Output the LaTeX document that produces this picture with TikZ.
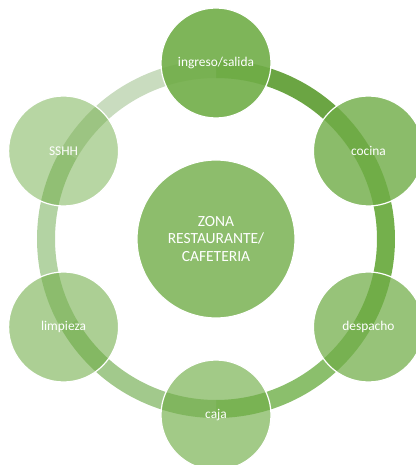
\documentclass[tikz,border=0pt]{standalone}
\usepackage{fontspec}
\setmainfont{Carlito}
\definecolor{zonegreen}{HTML}{70AD47}
\definecolor{arcA}{HTML}{6BA543}
\definecolor{arcB}{HTML}{74B04C}
\definecolor{arcC}{HTML}{8BBF6C}
\definecolor{arcD}{HTML}{A2C98C}
\definecolor{arcE}{HTML}{B3D3A3}
\definecolor{arcF}{HTML}{C9DCBF}
\begin{document}
\begin{tikzpicture}[zone/.style = {draw=white, circle, line width=1.2pt, fill=zonegreen, text=white, text opacity=1, inner sep=0pt, minimum size=110pt, font=\fontsize{13.4}{15}\selectfont},
    hub/.style = {zone, minimum size=158pt, align=center, font=\fontsize{15.5}{17.5}\selectfont},
    ring/.style = {line width=18pt}]

    \useasboundingbox (-216pt,-226pt) rectangle (199pt,239pt);

    \coordinate (r1) at (90:170pt);
    \coordinate (r2) at (30:170pt);
    \coordinate (r3) at (-30:170pt);
    \coordinate (r4) at (-90:170pt);
    \coordinate (r5) at (-150:170pt);
    \coordinate (r6) at (150:170pt);

    % ring between the zones
    \draw[ring, arcA] (r1) arc[start angle=90, end angle=30, radius=170pt];
    \draw[ring, arcB] (r2) arc[start angle=30, end angle=-30, radius=170pt];
    \draw[ring, arcC] (r3) arc[start angle=-30, end angle=-90, radius=170pt];
    \draw[ring, arcD] (r4) arc[start angle=-90, end angle=-150, radius=170pt];
    \draw[ring, arcE] (r5) arc[start angle=210, end angle=150, radius=170pt];
    \draw[ring, arcF] (r6) arc[start angle=150, end angle=90, radius=170pt];

    \node[hub, fill opacity=0.8] (hub) at (0,0) {ZONA\\RESTAURANTE/\\CAFETERIA};

    \node[zone, fill opacity=0.9] (ingreso) at (90:176pt) {ingreso/salida};
    \node[zone, fill opacity=0.81] (cocina) at (30:176pt) {cocina};
    \node[zone, fill opacity=0.73] (despacho) at (-30:176pt) {despacho};
    \node[zone, fill opacity=0.65] (caja) at (-90:176pt) {caja};
    \node[zone, fill opacity=0.58] (limpieza) at (-150:176pt) {limpieza};
    \node[zone, fill opacity=0.5] (sshh) at (150:176pt) {SSHH};
\end{tikzpicture}
\end{document}
